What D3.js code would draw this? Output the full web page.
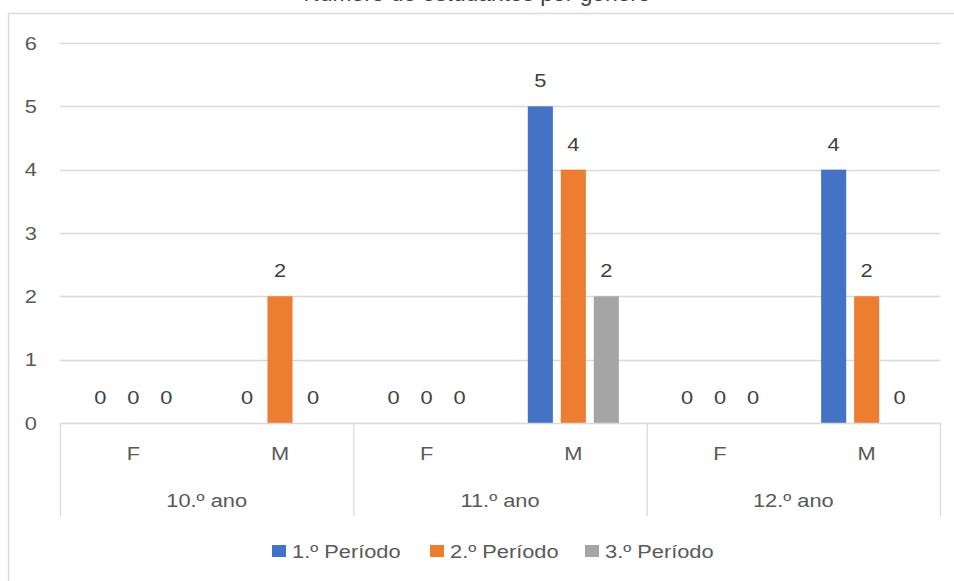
<!DOCTYPE html>
<html>
<head>
<meta charset="utf-8">
<script src="https://cdn.jsdelivr.net/npm/d3@7"></script>
<style>
  html, body { margin: 0; padding: 0; background: #fff; }
  svg { display: block; font-family: "Liberation Sans", Arial, sans-serif; }
</style>
</head>
<body>
<svg id="chart" width="954" height="581"></svg>
<script>
// Counts per school year and gender, one array per term
const years = ["10.º ano", "11.º ano", "12.º ano"];
const genders = ["F", "M"];
const seriesNames = ["1.º Período", "2.º Período", "3.º Período"];
const periodo1 = [0, 0, 0, 5, 0, 4];
const periodo2 = [0, 2, 0, 4, 0, 2];
const periodo3 = [0, 0, 0, 2, 0, 0];
const yTicks = [0, 1, 2, 3, 4, 5, 6];
const colors = ["#4472C4", "#ED7D31", "#A5A5A5"];
const titleText = "Número de estudantes por género";

const svg = d3.select("#chart");
const W = 954, H = 581;
const plot = { left: 60, right: 940, top: 43, bottom: 423 };
const textColor = "#595959";
const lineColor = "#D9D9D9";
const fontSize = 18.5;
const sx = 1.18; // horizontal widening of the labels

// place a text at (x, y) with a slight horizontal widening
function placeText(sel, fx, fy) {
  return sel.attr("transform", (d, i) => `translate(${fx(d, i)},${fy(d, i)}) scale(${sx},1)`);
}

// categories: every (year, gender) pair
const cats = [];
years.forEach(y => genders.forEach(g => cats.push({ year: y, gender: g, key: y + "|" + g })));
const allSeries = [periodo1, periodo2, periodo3];

const x0 = d3.scaleBand().domain(cats.map(c => c.key)).range([plot.left, plot.right]);
const xYear = d3.scaleBand().domain(years).range([plot.left, plot.right]);
const x1 = d3.scaleBand().domain(seriesNames).range([-49.5, 49.5]).paddingInner(0.24).paddingOuter(0.12);
const y = d3.scaleLinear().domain([0, 6]).range([plot.bottom, plot.top]);

// outer frame (top and left edges)
svg.append("line").attr("x1", 8).attr("x2", W).attr("y1", 13.5).attr("y2", 13.5)
  .attr("stroke", lineColor).attr("stroke-width", 1.5);
svg.append("line").attr("x1", 8.5).attr("x2", 8.5).attr("y1", 13).attr("y2", H)
  .attr("stroke", lineColor).attr("stroke-width", 1.5);

// title, partly above the frame
svg.append("text").attr("x", 477).attr("y", 1).attr("text-anchor", "middle")
  .attr("font-size", 22.8).attr("fill", "#404040").text(titleText);

// gridlines
svg.append("g").selectAll("line").data(yTicks.filter(t => t > 0)).join("line")
  .attr("x1", plot.left).attr("x2", plot.right)
  .attr("y1", d => Math.round(y(d)) + 0.5).attr("y2", d => Math.round(y(d)) + 0.5)
  .attr("stroke", lineColor).attr("stroke-width", 1.3);

// y tick labels
placeText(svg.append("g").selectAll("text").data(yTicks).join("text"), () => 37, d => y(d))
  .attr("dy", "0.36em").attr("text-anchor", "end")
  .attr("font-size", fontSize).attr("fill", textColor)
  .text(d => d);

// bars and value labels
const barG = svg.append("g");
allSeries.forEach((vals, si) => {
  const bx = c => x0(c.key) + x0.bandwidth() / 2 + x1(seriesNames[si]);
  barG.selectAll(null).data(cats).join("rect")
    .attr("x", c => bx(c))
    .attr("width", x1.bandwidth())
    .attr("y", (c, i) => y(vals[i]))
    .attr("height", (c, i) => y(0) - y(vals[i]))
    .attr("fill", colors[si]);
  placeText(barG.selectAll(null).data(cats).join("text"),
      c => bx(c) + x1.bandwidth() / 2, (c, i) => y(vals[i]) - 19)
    .attr("text-anchor", "middle").attr("font-size", fontSize).attr("fill", "#404040")
    .text((c, i) => vals[i]);
});

// category axis: baseline and group separators
svg.append("line").attr("x1", plot.left).attr("x2", plot.right)
  .attr("y1", plot.bottom + 0.5).attr("y2", plot.bottom + 0.5)
  .attr("stroke", lineColor).attr("stroke-width", 1.3);
const seps = years.map(yr => xYear(yr)).concat([plot.right]);
svg.append("g").selectAll("line").data(seps).join("line")
  .attr("x1", d => d + 0.5).attr("x2", d => d + 0.5)
  .attr("y1", plot.bottom).attr("y2", 516)
  .attr("stroke", lineColor).attr("stroke-width", 1.3);

// gender labels
placeText(svg.append("g").selectAll("text").data(cats).join("text"),
    c => x0(c.key) + x0.bandwidth() / 2, () => 460)
  .attr("text-anchor", "middle").attr("font-size", fontSize).attr("fill", textColor)
  .text(c => c.gender);

// year labels
placeText(svg.append("g").selectAll("text").data(years).join("text"),
    d => xYear(d) + xYear.bandwidth() / 2, () => 507)
  .attr("text-anchor", "middle").attr("font-size", fontSize).attr("fill", textColor)
  .text(d => d);

// legend
const legendX = [272, 430, 585];
const lg = svg.append("g").selectAll("g").data(seriesNames).join("g")
  .attr("transform", (d, i) => `translate(${legendX[i]},545)`);
lg.append("rect").attr("width", 14).attr("height", 12).attr("fill", (d, i) => colors[i]);
placeText(lg.append("text"), () => 20, () => 12.5)
  .attr("font-size", fontSize).attr("fill", textColor)
  .text(d => d);
</script>
</body>
</html>
